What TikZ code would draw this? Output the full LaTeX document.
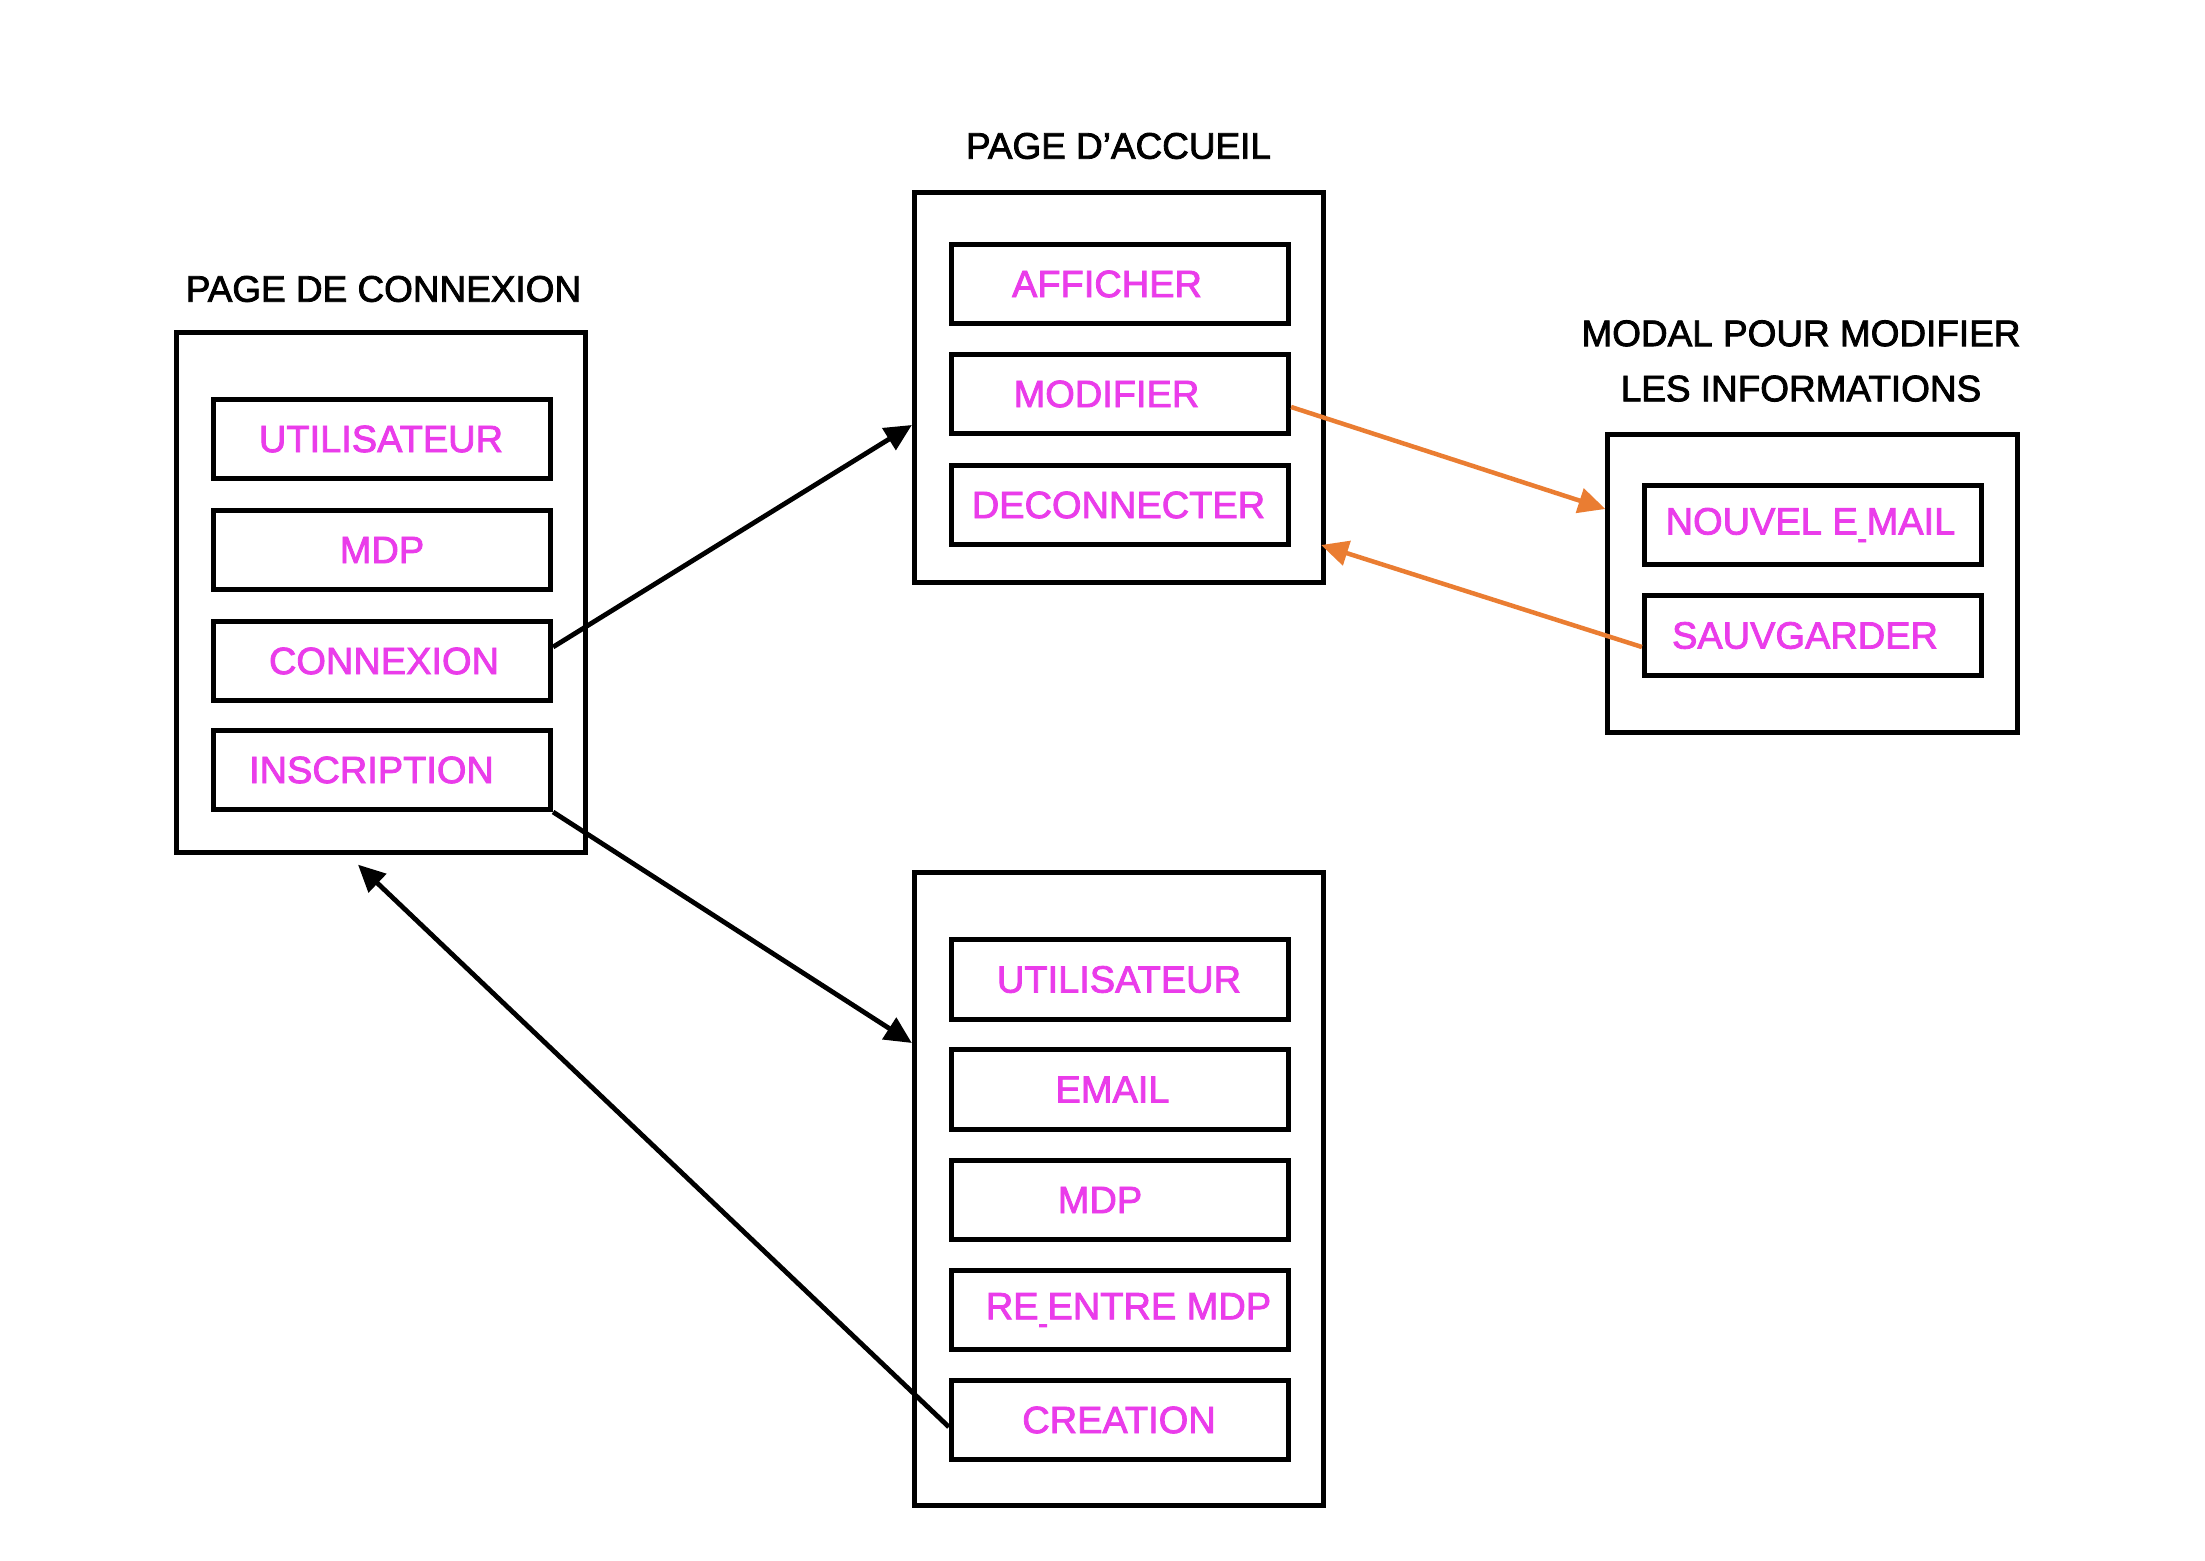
\documentclass[tikz,border=0pt]{standalone}
\usepackage{fontspec}
\setmainfont[FakeBold=2.2]{Liberation Sans}
\usetikzlibrary{arrows.meta,calc}
\definecolor{mag}{RGB}{234,60,234}
\definecolor{orng}{RGB}{234,125,50}
\newcommand{\us}{\kern0.02em\scalebox{0.35}[1]{\_}\kern0.02em}
\begin{document}
\begin{tikzpicture}[x=0.01cm,y=-0.01cm,
  outerbox/.style={draw=black,line width=0.05cm,minimum width=4.09cm,inner sep=0pt,fill=none},
  item/.style={draw=black,line width=0.05cm,minimum width=3.37cm,minimum height=0.79cm,inner sep=0pt,
    text=mag,font=\fontsize{10.8pt}{12pt}\selectfont},
  ttl/.style={font=\fontsize{10.5pt}{12pt}\selectfont,text=black,inner sep=0pt,align=center},
  blk/.style={draw=black,line width=0.048cm,-{Triangle[length=0.27cm,width=0.25cm]}},
  org/.style={draw=orng,line width=0.045cm,-{Triangle[length=0.27cm,width=0.25cm]}}]
\useasboundingbox (0,0) rectangle (2205,1561);
\fill[white] (0,0) rectangle (2205,1561);

% Page de connexion
\node[ttl] (t1) at (383.5,289) {PAGE DE CONNEXION};
\node[outerbox,minimum height=5.20cm] (conn) at (381,592.5) {};
\node[item] (c1) at (382,439) {UTILISATEUR\hspace*{0.02cm}};
\node[item] (c2) at (382,550) {MDP};
\node[item] (c3) at (382,661) {\hspace*{0.04cm}CONNEXION};
\node[item] (c4) at (382,770) {INSCRIPTION\hspace*{0.21cm}};

% Page d'accueil
\node[ttl] (t2) at (1118.5,146) {PAGE D'ACCUEIL};
\node[outerbox,minimum height=3.90cm] (acc) at (1119,387.5) {};
\node[item] (a1) at (1120,284) {AFFICHER\hspace*{0.26cm}};
\node[item] (a2) at (1120,394) {MODIFIER\hspace*{0.27cm}};
\node[item] (a3) at (1120,505) {DECONNECTER\hspace*{0.03cm}};

% Modal
\node[ttl] (t3) at (1801,361) {MODAL POUR MODIFIER\\[0.13cm]LES INFORMATIONS};
\node[outerbox,minimum height=2.98cm] (mod) at (1812.5,583.5) {};
\node[item] (m1) at (1813,525) {NOUVEL E\us MAIL\hspace*{0.05cm}};
\node[item] (m2) at (1813,635.5) {SAUVGARDER\hspace*{0.16cm}};

% Inscription page
\node[outerbox,minimum height=6.33cm] (ins) at (1119,1189) {};
\node[item] (i1) at (1120,979.5) {UTILISATEUR\hspace*{0.02cm}};
\node[item] (i2) at (1120,1089.5) {EMAIL\hspace*{0.15cm}};
\node[item] (i3) at (1120,1200) {MDP\hspace*{0.40cm}};
\node[item] (i4) at (1120,1310) {\hspace*{0.17cm}RE\us ENTRE MDP};
\node[item] (i5) at (1120,1420) {CREATION\hspace*{0.02cm}};

% connectors
\draw[blk] ($(c3.east)+(0,-14)$) -- ($(acc.west)+(0,37.5)$);
\draw[blk] (c4.south east) -- ($(ins.west)+(0,-146)$);
\draw[blk] ($(i5.west)+(0,7)$) -- ($(conn.south)+(-23,9.5)$);
\draw[org] ($(a2.east)+(0,13)$) -- ($(mod.west)+(0,-74.5)$);
\draw[org] ($(m2.west)+(0,11.5)$) -- ($(acc.east)+(-5,157.5)$);
\end{tikzpicture}
\end{document}
